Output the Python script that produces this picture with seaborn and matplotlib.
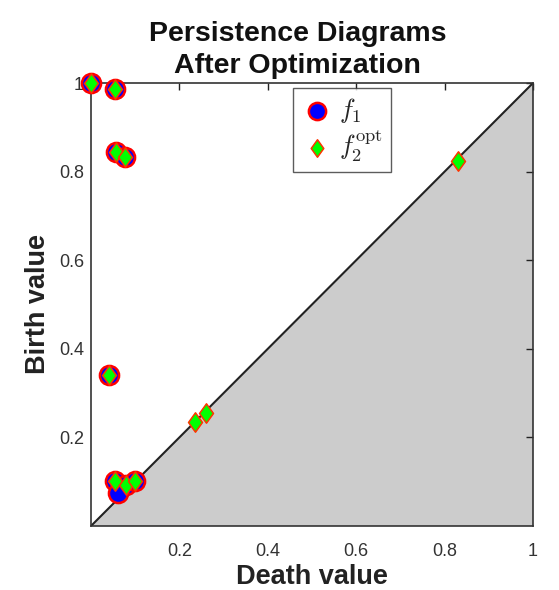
import matplotlib
matplotlib.use("Agg")
import matplotlib.pyplot as plt
from matplotlib.path import Path
import seaborn as sns
import pandas as pd

# f1 persistence points (death, birth)
f1_death = [0.0, 0.054, 0.057, 0.078, 0.041, 0.054, 0.079, 0.100, 0.062]
f1_birth = [1.0, 0.986, 0.845, 0.834, 0.341, 0.102, 0.093, 0.101, 0.074]

# f2 optimized persistence points
f2_death = [0.0, 0.054, 0.057, 0.078, 0.041, 0.054, 0.079, 0.100, 0.235, 0.260, 0.830]
f2_birth = [1.0, 0.986, 0.845, 0.834, 0.341, 0.102, 0.093, 0.101, 0.235, 0.256, 0.825]

x_ticks = [0.2, 0.4, 0.6, 0.8, 1.0]
x_tick_labels = ["0.2", "0.4", "0.6", "0.8", "1"]
y_ticks = [0.2, 0.4, 0.6, 0.8, 1.0]
y_tick_labels = ["0.2", "0.4", "0.6", "0.8", "1"]

sns.set_style("white")
plt.rcParams['font.family'] = ['Liberation Sans', 'DejaVu Sans']
plt.rcParams['mathtext.fontset'] = 'cm'

fig = plt.figure(figsize=(5.59, 5.9), dpi=100)
ax = fig.add_axes([0.1628, 0.1085, 0.7907, 0.7508])

ax.fill([0, 1, 1], [0, 0, 1], color="#cccccc", zorder=0)
ax.plot([0, 1], [0, 1], color="#222222", lw=1.5, zorder=1)

diamond = Path([(0, 1), (0.72, 0), (0, -1), (-0.72, 0), (0, 1)],
               [Path.MOVETO, Path.LINETO, Path.LINETO, Path.LINETO, Path.CLOSEPOLY])

df1 = pd.DataFrame({"death": f1_death, "birth": f1_birth})
df2 = pd.DataFrame({"death": f2_death, "birth": f2_birth})

sns.scatterplot(data=df1, x="death", y="birth", ax=ax, marker="o", s=190,
                color="blue", edgecolor="red", linewidth=1.8, zorder=3,
                label=r"$f_1$", clip_on=False)
sns.scatterplot(data=df2, x="death", y="birth", ax=ax, marker=diamond, s=195,
                color="#00ff00", edgecolor="#ff3300", linewidth=1.1, zorder=4,
                label=r"$f_2^{\mathrm{opt}}$", clip_on=False)

ax.set_xlim(0, 1)
ax.set_ylim(0, 1)
ax.set_xticks(x_ticks)
ax.set_xticklabels(x_tick_labels)
ax.set_yticks(y_ticks)
ax.set_yticklabels(y_tick_labels)
ax.tick_params(direction="in", length=5, width=1, top=True, right=True,
               labelsize=13, colors="#222222", labelcolor="#333333")
ax.tick_params(axis="x", pad=12)
ax.tick_params(axis="y", pad=5)
for sp in ax.spines.values():
    sp.set_color("#333333")
    sp.set_linewidth(1.2)

ax.set_xlabel("Death value", fontsize=19.5, fontweight="bold", color="#222222", labelpad=3)
ax.set_ylabel("Birth value", fontsize=19.5, fontweight="bold", color="#222222", labelpad=6)
ax.text(0.468, 1.008, "Persistence Diagrams\nAfter Optimization", transform=ax.transAxes,
        ha="center", va="bottom", fontsize=20.5, fontweight="bold", color="#111111",
        linespacing=1.3)

leg = ax.legend(loc="upper left", bbox_to_anchor=(0.457, 0.989), borderaxespad=0,
                fontsize=19, frameon=True, fancybox=False, edgecolor="#333333",
                handletextpad=0.25, borderpad=0.3, labelspacing=0.15,
                handlelength=1.2, markerscale=0.9)
leg.get_frame().set_linewidth(1.0)

fig.savefig("out.png", dpi=100)
